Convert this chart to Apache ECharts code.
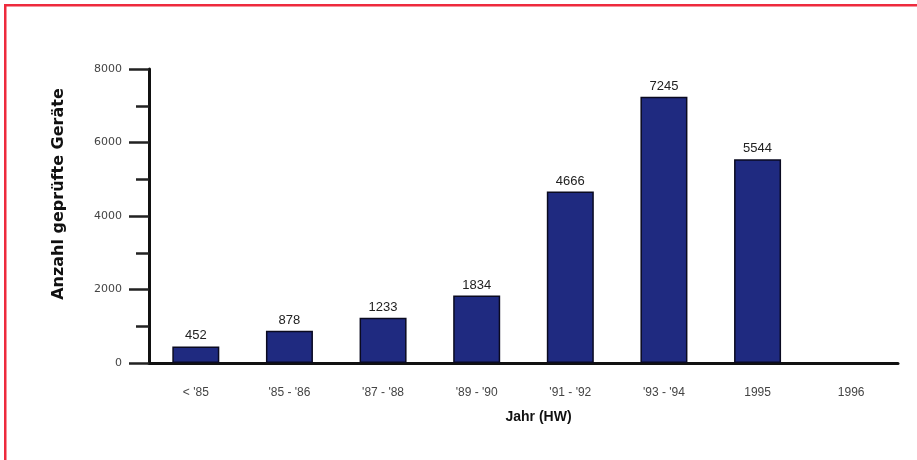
<!DOCTYPE html>
<html>
<head>
<meta charset="utf-8">
<script src="https://cdn.jsdelivr.net/npm/echarts@6/dist/echarts.min.js"></script>
<style>
  html, body { margin: 0; padding: 0; background: #fff; }
  #chart { width: 917px; height: 460px; }
</style>
</head>
<body>
<div id="chart"></div>
<script>
// Geprüfte Geräte pro Zeitraum
const categories = ["< '85", "'85 - '86", "'87 - '88", "'89 - '90", "'91 - '92", "'93 - '94", "1995", "1996"];
const counts = [452, 878, 1233, 1834, 4666, 7245, 5544, null];
const yTicks = [0, 2000, 4000, 6000, 8000];

const FONT = "'Liberation Sans', Arial, Helvetica, sans-serif";
const WIDE = "'DejaVu Sans', 'Liberation Sans', sans-serif";

const chart = echarts.init(document.getElementById('chart'), null, { renderer: 'canvas' });

chart.setOption({
  animation: false,
  backgroundColor: '#ffffff',
  graphic: [
    // roter Rahmen oben und links
    { type: 'rect', left: 4, top: 4, shape: { width: 913, height: 2.5 }, style: { fill: '#ee2a3d' } },
    { type: 'rect', left: 4, top: 4, shape: { width: 2.5, height: 456 }, style: { fill: '#ee2a3d' } }
  ],
  grid: { left: 149, right: 19, top: 69, bottom: 97, containLabel: false },
  xAxis: {
    type: 'category',
    data: categories,
    name: 'Jahr (HW)',
    nameLocation: 'middle',
    nameGap: 47,
    nameTextStyle: { fontFamily: FONT, fontSize: 14, fontWeight: 'bold', color: '#111', padding: [0, 0, 0, 30] },
    axisLine: { lineStyle: { color: '#111', width: 3 } },
    axisTick: { alignWithLabel: true, length: 15, lineStyle: { color: '#222', width: 2.5 } },
    axisLabel: { margin: 24, fontFamily: FONT, fontSize: 12, color: '#444' }
  },
  yAxis: {
    type: 'value',
    min: yTicks[0],
    max: yTicks[yTicks.length - 1],
    interval: yTicks[1] - yTicks[0],
    name: 'Anzahl geprüfte Geräte',
    nameLocation: 'middle',
    nameRotate: 90,
    nameGap: 82,
    nameTextStyle: { fontFamily: WIDE, fontSize: 16, fontWeight: 'bold', color: '#111', padding: [0, 0, 0, 44] },
    axisLine: { show: true, lineStyle: { color: '#111', width: 3 } },
    axisTick: { show: true, length: 20, lineStyle: { color: '#222', width: 2.5 } },
    minorTick: { show: true, splitNumber: 2, length: 13, lineStyle: { color: '#222', width: 2.5 } },
    splitLine: { show: false },
    axisLabel: {
      margin: 27,
      fontFamily: WIDE,
      fontSize: 11,
      color: '#444',
      formatter: (v) => String(v)
    }
  },
  series: [{
    type: 'bar',
    data: counts,
    barWidth: 47,
    itemStyle: { color: '#1f2a80', borderColor: '#0a0a20', borderWidth: 1.5 },
    label: {
      show: true,
      position: 'top',
      distance: 4,
      fontFamily: FONT,
      fontSize: 13,
      color: '#222'
    }
  }]
});
</script>
</body>
</html>
